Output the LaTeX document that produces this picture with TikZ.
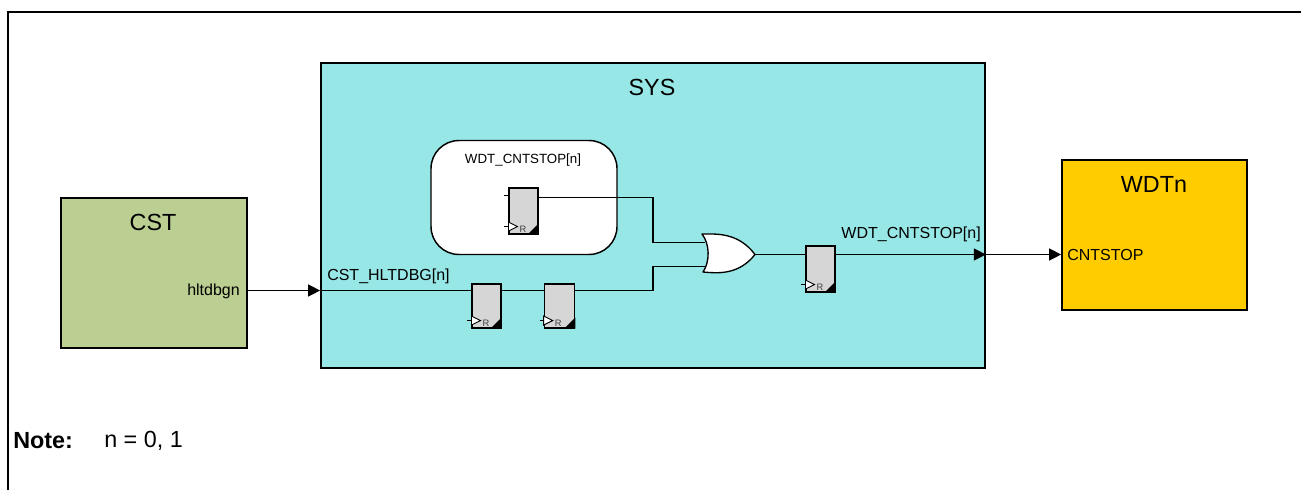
\documentclass[tikz,border=0pt]{standalone}
\usepackage{fontspec}
\setmainfont{Liberation Sans}
\usetikzlibrary{arrows.meta,calc}
\definecolor{systeal}{HTML}{97E7E6}
\definecolor{cstgreen}{HTML}{BBCF92}
\definecolor{wdtorange}{HTML}{FFCC00}
\definecolor{ffgray}{HTML}{D6D6D6}
\newcommand{\fsize}[1]{\fontsize{#1}{#1}\selectfont}
\newcommand{\ffdeco}[1]{%
  \begin{scope}[shift={(#1.south west)}]
    \draw[wire] (-4,-8) -- (0,-8);
    \draw[black,line width=.7pt,fill=white] (0,-12.5) -- (9,-8) -- (0,-3.5) -- cycle;
    \fill[black] (#1.south east) -- ++(-11,0) -- ++(11,-11) -- cycle;
    \node[font=\fsize{7},text=black!75,inner sep=0] at (14.5,-5.5) {R};
  \end{scope}%
}
\tikzset{
  x=0.75pt,y=-0.75pt,
  block/.style={draw=black,line width=1.3pt,rectangle,inner sep=0},
  ffbox/.style={draw=black,line width=.8pt,fill=ffgray,rectangle,inner sep=0,minimum width=21.75pt,minimum height=34.5pt},
  wire/.style={draw=black,line width=1pt},
  arrowwire/.style={wire,-{Triangle[length=9pt,width=9pt]}},
  big/.style={font=\fsize{17.5},inner sep=0},
  mid/.style={font=\fsize{12},inner sep=0},
  small/.style={font=\fsize{10},inner sep=0},
}
\begin{document}
\begin{tikzpicture}
\useasboundingbox (0,0) rectangle (1301,490);
\draw[line width=1.6pt,line join=miter] (8,490) -- (8,12) -- (1301,12);

\node[block,fill=systeal,minimum width=498pt,minimum height=228.75pt] (sys) at (653,215.5) {};
\node[block,fill=cstgreen,minimum width=139.5pt,minimum height=112.5pt] (cst) at (154,273) {};
\node[block,fill=wdtorange,minimum width=138.75pt,minimum height=112.5pt] (wdt) at (1154.5,235) {};
\node[draw=black,line width=1.1pt,fill=white,rectangle,rounded corners=21pt,inner sep=0,minimum width=139.5pt,minimum height=85.5pt] (reg) at (524,197.5) {};

\node[big] (systxt) at (652,87.5) {SYS};
\node[big] (csttxt) at (153,222.5) {CST};
\node[big] (wdttxt) at (1154,184.5) {WDTn};
\node[mid] (hlt) at (213.5,291.5) {hltdbgn};
\node[mid,anchor=west] (cnt) at (1067,254.5) {CNTSTOP};
\node[mid,anchor=west] (csth) at (327,276.5) {CST\_HLTDBG[n]};
\node[mid,anchor=east] (wdtc) at (981,234.5) {WDT\_CNTSTOP[n]};
\node[small] (regtxt) at (523,160.5) {WDT\_CNTSTOP[n]};
\node[big,font=\fsize{17.5}\bfseries,anchor=west] (note) at (13,441) {Note:};
\node[big,anchor=west] (noteval) at (104,441) {n = 0, 1};

\node[ffbox] (ff1) at (523.5,211) {};
\node[ffbox,minimum height=33pt] (ff2) at (486.5,306) {};
\node[ffbox,minimum width=23pt,minimum height=33pt] (ff3) at (559.5,306) {};
\node[ffbox] (ff4) at (820.5,269) {};

% OR gate
\coordinate (orout) at (755,254.5);
\coordinate (orin1) at (705,242.5);
\coordinate (orin2) at (705,266.5);
\coordinate (ff1q) at ($(ff1.north east)+(0,10)$);
\coordinate (ff1d) at ($(ff1.north west)+(0,8)$);
\coordinate (bend1) at (653,242.5);
\coordinate (bend2) at (653,290.5);
\coordinate (ff4y) at (ff4.north west |- orout);
\coordinate (ff4qy) at (ff4.north east |- orout);
\coordinate (sysout) at (sys.east |- orout);
\coordinate (wdtin) at (wdt.west |- orout);
\coordinate (cstout) at (cst.east |- bend2);

\draw[wire] (ff1q) -| (bend1) -- (orin1);
\draw[wire] (ff1d) -- ++(-4,0);
\draw[wire] (sys.west |- bend2) -- (ff2.west |- bend2);
\draw[wire] (ff2.east |- bend2) -- (ff3.west |- bend2);
\draw[wire] (ff3.east |- bend2) -- (bend2) |- (orin2);
\draw[wire] (orout) -- (ff4y);
\draw[arrowwire] (ff4qy) -- (sysout);
\draw[arrowwire] (sysout) -- (wdtin);
\draw[arrowwire] (cstout) -- (sys.west |- bend2);

\draw[line width=1pt,fill=white,line join=round]
  (702,234) .. controls (716,234) and (738,232) .. (orout)
  .. controls (738,276) and (716,273) .. (703,272)
  .. controls (710,262) and (710,244) .. cycle;

\ffdeco{ff1}
\ffdeco{ff2}
\ffdeco{ff3}
\ffdeco{ff4}
\end{tikzpicture}
\end{document}
